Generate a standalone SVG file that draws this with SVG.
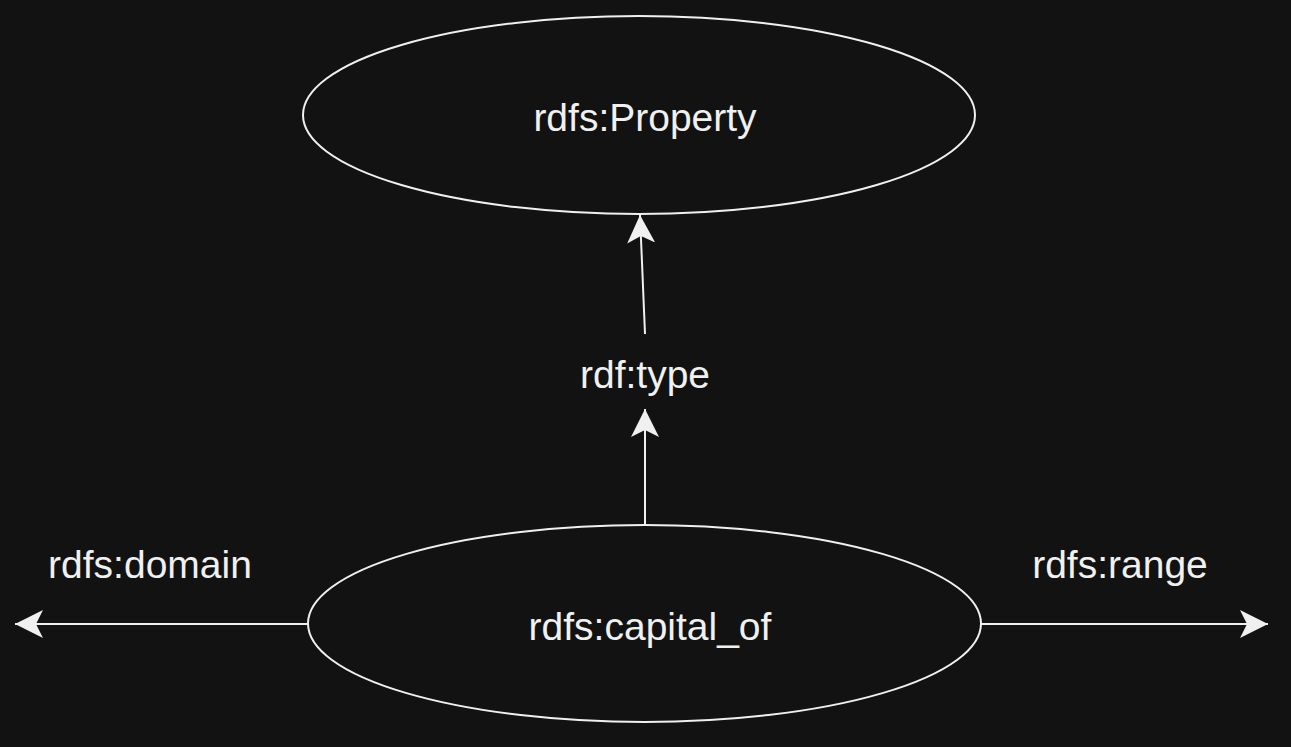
<svg xmlns="http://www.w3.org/2000/svg" width="1291" height="747" viewBox="0 0 1291 747">
<style>
.node{fill:none;stroke:#f0f0f0;stroke-width:2}
.lbl{font-family:"Liberation Sans",Arial,sans-serif;font-size:39px;fill:#f0f0f0;text-anchor:middle}
.edge{fill:none;stroke:#f0f0f0;stroke-width:2}
</style>
<defs>
<marker id="arr" viewBox="-28 -15 30 30" markerWidth="30" markerHeight="30" refX="0" refY="0" markerUnits="userSpaceOnUse" orient="auto">
<path d="M0,0 L-28,-14 L-21,0 L-28,14 Z" fill="#f0f0f0"/>
</marker>
</defs>
<rect width="1291" height="747" fill="#121212"/>
<g id="property">
<ellipse class="node" cx="639" cy="115" rx="336" ry="99"/>
<text class="lbl" x="645" y="131">rdfs:Property</text>
</g>
<g id="capital_of">
<ellipse class="node" cx="644.5" cy="623.5" rx="336.5" ry="98.5"/>
<text class="lbl" x="650" y="640">rdfs:capital_of</text>
</g>
<g id="connectors">
<path class="edge" d="M645,334 L640,215" marker-end="url(#arr)"/>
<path class="edge" d="M645,524 L645,409" marker-end="url(#arr)"/>
<path class="edge" d="M308,624 L15,624" marker-end="url(#arr)"/>
<path class="edge" d="M981,624 L1268,624" marker-end="url(#arr)"/>
<text class="lbl" x="645" y="388">rdf:type</text>
<text class="lbl" x="150" y="578">rdfs:domain</text>
<text class="lbl" x="1120" y="578">rdfs:range</text>
</g>
</svg>
